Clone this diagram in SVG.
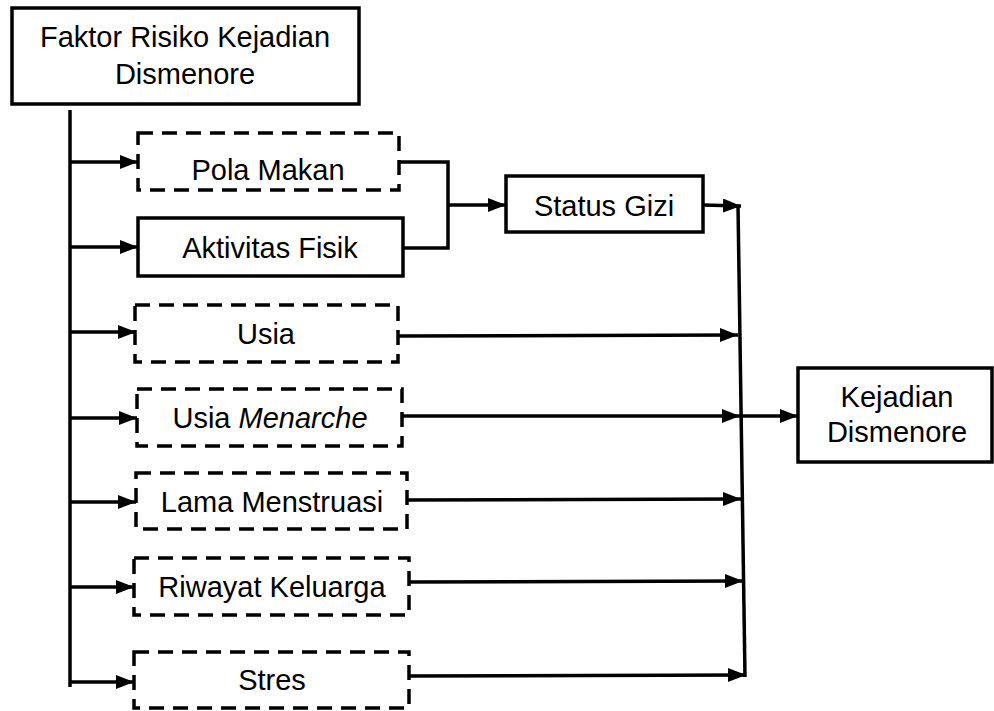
<svg xmlns="http://www.w3.org/2000/svg" width="994" height="711" viewBox="0 0 994 711">
<defs>
<marker id="arr" markerUnits="userSpaceOnUse" markerWidth="19" markerHeight="15" refX="18" refY="7" orient="auto">
<path d="M0,0 L18,7 L0,14 z" fill="#000"/>
</marker>
</defs>
<style>
.box{fill:#fff;stroke:#000;stroke-width:3.5}
.dash{stroke-dasharray:15 9}
.t{font-family:"Liberation Sans",Arial,sans-serif;font-size:29px;fill:#000;text-anchor:middle}
.c{fill:none;stroke:#000;stroke-width:3.5}
.a{marker-end:url(#arr)}
</style>
<rect width="994" height="711" fill="#fff"/>
<g id="connectors">
<line class="c" x1="70" y1="110" x2="70" y2="687"/>
<line class="c a" x1="70" y1="162" x2="138" y2="162"/>
<line class="c a" x1="70" y1="247" x2="138" y2="247"/>
<line class="c a" x1="70" y1="332" x2="136" y2="332"/>
<line class="c a" x1="70" y1="418" x2="137" y2="418"/>
<line class="c a" x1="70" y1="502" x2="136" y2="502"/>
<line class="c a" x1="70" y1="587" x2="134" y2="587"/>
<line class="c a" x1="70" y1="682" x2="134" y2="682"/>
<polyline class="c" points="399,162 448,162 448,248 403,248"/>
<line class="c a" x1="448" y1="205" x2="506" y2="205"/>
<line class="c a" x1="703" y1="205" x2="741" y2="206"/>
<line class="c" x1="738" y1="205" x2="745" y2="677"/>
<line class="c a" x1="398" y1="336" x2="738" y2="335"/>
<line class="c a" x1="402" y1="416" x2="740" y2="416"/>
<line class="c a" x1="740" y1="416" x2="798" y2="416"/>
<line class="c a" x1="405" y1="500" x2="741" y2="499"/>
<line class="c a" x1="408" y1="582" x2="743" y2="581"/>
<line class="c a" x1="409" y1="676" x2="746" y2="675"/>
</g>
<g id="faktor">
<rect class="box" x="12" y="8" width="347" height="96"/>
<text class="t" x="185" y="47">Faktor Risiko Kejadian</text>
<text class="t" x="185" y="84">Dismenore</text>
</g>
<g id="pola-makan">
<rect class="box dash" x="138" y="133" width="261" height="57"/>
<text class="t" x="268" y="180">Pola Makan</text>
</g>
<g id="aktivitas-fisik">
<rect class="box" x="138" y="218" width="265" height="58"/>
<text class="t" x="270" y="258">Aktivitas Fisik</text>
</g>
<g id="status-gizi">
<rect class="box" x="506" y="176" width="197" height="56"/>
<text class="t" x="604" y="216">Status Gizi</text>
</g>
<g id="usia">
<rect class="box dash" x="135" y="305" width="263" height="57"/>
<text class="t" x="266" y="344">Usia</text>
</g>
<g id="usia-menarche">
<rect class="box dash" x="137" y="389" width="265" height="57"/>
<text class="t" x="270" y="428">Usia <tspan font-style="italic">Menarche</tspan></text>
</g>
<g id="lama-menstruasi">
<rect class="box dash" x="136" y="473" width="271" height="56"/>
<text class="t" x="272" y="512">Lama Menstruasi</text>
</g>
<g id="riwayat-keluarga">
<rect class="box dash" x="134" y="558" width="275" height="57"/>
<text class="t" x="272" y="597">Riwayat Keluarga</text>
</g>
<g id="stres">
<rect class="box dash" x="134" y="652" width="275" height="56"/>
<text class="t" x="272" y="690">Stres</text>
</g>
<g id="kejadian-dismenore">
<rect class="box" x="798" y="368" width="194" height="94"/>
<text class="t" x="897" y="407">Kejadian</text>
<text class="t" x="897" y="442">Dismenore</text>
</g>
</svg>
